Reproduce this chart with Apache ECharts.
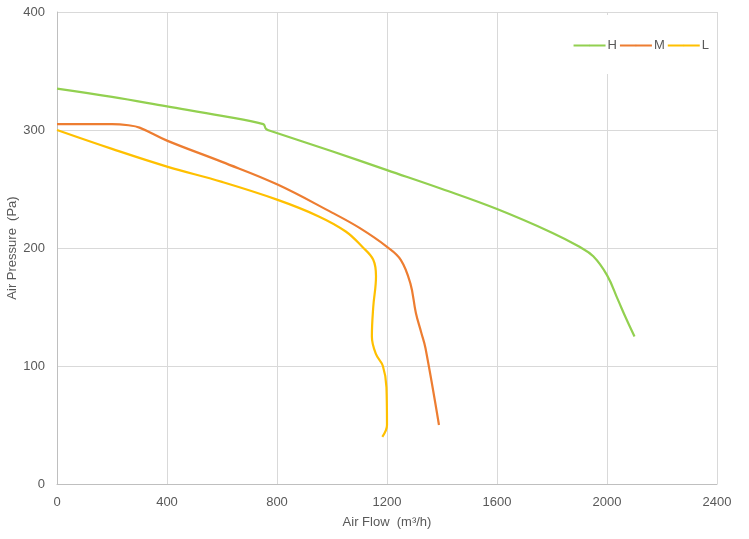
<!DOCTYPE html>
<html>
<head>
<meta charset="utf-8">
<script src="https://cdn.jsdelivr.net/npm/echarts@6/dist/echarts.min.js"></script>
<style>
	html, body { margin: 0; padding: 0; background: #fff; }
	#chart { width: 749px; height: 539px; }
</style>
</head>
<body>
<div id="chart"></div>
<script>
// fan curves, [air flow, air pressure]
var seriesNames = ['H', 'M', 'L'];
var seriesColors = ['#92d050', '#ed7d31', '#ffc000'];

var hData = [[0,335],[200,328],[400,320],[600,312],[750,305],[760,301],[780,299],[1000,282],[1200,266],
	[1400,250],[1600,233],[1800,213],[1900,201],[1950,193],[2000,177],[2040,156],[2070,140],[2100,125]];
var mData = [[0,305],[100,305],[200,305],[260,304],[300,302],[400,291],[600,273],[800,254],[1000,230],
	[1100,217],[1200,201],[1250,190],[1285,170],[1305,145],[1325,128],[1340,115],[1389,50]];
var lData = [[0,300],[200,284],[400,269],[600,256],[800,241],[950,227],[1050,214],[1110,201],[1150,190],[1160,176],
	[1150,150],[1145,125],[1160,110],[1185,100],[1198,82],[1200,50],[1183,40]];

var xTicks = { min: 0, max: 2400, interval: 400 };
var yTicks = { min: 0, max: 400, interval: 100 };

var allData = [hData, mData, lData];
var series = [];
for (var i = 0; i < seriesNames.length; ++i) {
	series.push({
		name: seriesNames[i],
		type: 'line',
		data: allData[i],
		smooth: 0.4,
		symbol: 'none',
		lineStyle: { color: seriesColors[i], width: 2.2 },
		itemStyle: { color: seriesColors[i] }
	});
}

var textColor = '#595959';
var gridColor = '#d9d9d9';

var option = {
	animation: false,
	textStyle: { fontFamily: '"Liberation Sans", Arial, sans-serif' },
	grid: { left: 57, right: 32, top: 12, bottom: 55, containLabel: false, outerBoundsMode: 'none' },
	legend: {
		right: 34,
		top: 15,
		padding: [24, 6, 22, 6],
		backgroundColor: '#fff',
		itemWidth: 32,
		itemHeight: 2,
		itemGap: 2,
		data: seriesNames,
		textStyle: { color: textColor, fontSize: 13, padding: [0, 0, 0, -3] }
	},
	xAxis: {
		type: 'value',
		min: xTicks.min, max: xTicks.max, interval: xTicks.interval,
		name: 'Air Flow  (m³/h)',
		nameLocation: 'middle',
		nameGap: 32,
		nameTextStyle: { color: textColor, fontSize: 13 },
		axisLine: { show: true, lineStyle: { color: '#bfbfbf' } },
		axisTick: { show: false },
		axisLabel: { color: textColor, fontSize: 13, margin: 12, formatter: function (v) { return String(v); } },
		splitLine: { show: true, lineStyle: { color: gridColor } }
	},
	yAxis: {
		type: 'value',
		min: yTicks.min, max: yTicks.max, interval: yTicks.interval,
		name: 'Air Pressure  (Pa)',
		nameLocation: 'middle',
		nameGap: 38,
		nameMoveOverlap: false,
		nameTextStyle: { color: textColor, fontSize: 13 },
		axisLine: { show: true, lineStyle: { color: '#bfbfbf' } },
		axisTick: { show: false },
		axisLabel: { color: textColor, fontSize: 13, margin: 12 },
		splitLine: { show: true, lineStyle: { color: gridColor } }
	},
	series: series
};

var chart = echarts.init(document.getElementById('chart'));
chart.setOption(option);
</script>
</body>
</html>
